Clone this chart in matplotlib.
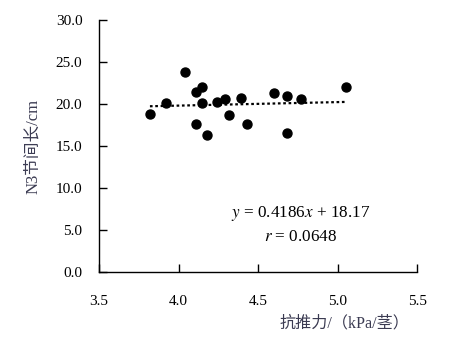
import matplotlib
matplotlib.use("Agg")
import matplotlib.pyplot as plt

plt.rcParams["font.family"] = ["Liberation Serif", "Noto Sans CJK SC"]
plt.rcParams["mathtext.fontset"] = "stix"

# Data
push_force = [3.82, 3.92, 4.04, 4.11, 4.15, 4.15, 4.11, 4.18, 4.24,
              4.29, 4.32, 4.39, 4.43, 4.60, 4.68, 4.68, 4.77, 5.05]
internode_len = [18.9, 20.2, 23.8, 21.5, 22.1, 20.2, 17.7, 16.4, 20.3,
                 20.6, 18.7, 20.7, 17.6, 21.3, 21.0, 16.6, 20.6, 22.1]
slope, intercept = 0.4186, 18.17
r_value = 0.0648

xticks = [3.5, 4.0, 4.5, 5.0, 5.5]
yticks = [0, 5, 10, 15, 20, 25, 30]

fig = plt.figure(figsize=(4.55, 3.46), dpi=100)
ax = fig.add_axes([0.2176, 0.2130, 0.6995, 0.7283])

ax.scatter(push_force, internode_len, s=42, color="black", zorder=3)

x0, x1 = min(push_force), max(push_force)
ax.plot([x0, x1], [slope * x0 + intercept, slope * x1 + intercept],
        color="black", lw=1.6, linestyle=(0, (1.2, 1.2)), zorder=2)

ax.set_xlim(3.5, 5.5)
ax.set_ylim(0, 30)
ax.set_xticks(xticks)
ax.set_xticklabels([f"{t:.1f}" for t in xticks])
ax.set_yticks(yticks)
ax.set_yticklabels([f"{t:.1f}" for t in yticks])

for side in ["top", "right"]:
    ax.spines[side].set_visible(False)
for side in ["left", "bottom"]:
    ax.spines[side].set_linewidth(1.0)

ax.tick_params(axis="both", direction="in", length=6, width=1.0,
               labelsize=11, colors="black")
ax.tick_params(axis="x", pad=16)
ax.tick_params(axis="y", pad=12)

ax.set_ylabel("N3节间长/cm", fontsize=12, color="#3b3b52")
ax.yaxis.set_label_coords(-0.183, 0.5)
ax.set_xlabel("抗推力/（kPa/茎）", fontsize=11.6, color="#3b3b52")
ax.xaxis.set_label_coords(0.77, -0.172)

ax.text(4.767, 7.05, f"$y$ = {slope}$x$ + {intercept}", fontsize=12.3,
        ha="center", va="center")
ax.text(4.767, 4.25, f"$r$ = {r_value:.4f}", fontsize=12.3,
        ha="center", va="center")

fig.savefig("out.png", dpi=100)
